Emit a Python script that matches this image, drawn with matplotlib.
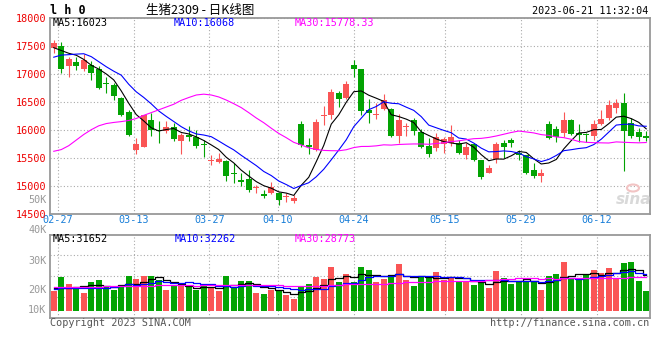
import numpy as np
import pandas as pd
import matplotlib
matplotlib.use("Agg")
import matplotlib.pyplot as plt
from matplotlib.patches import Ellipse

plt.rcParams['font.family'] = ['DejaVu Sans Mono']

# daily candles 02-24 .. 06-21 (80 sessions)
opens = [17458, 17500, 17143, 17214, 17089, 17161, 17089, 16840, 16804, 16577,
         16321, 15643, 15702, 16179, 16000, 15982, 16048, 15798, 15905, 15881,
         15740, 15440, 15429, 15447, 15238, 15107, 15125, 14964, 14851, 14869,
         14875, 14798, 14732, 16107, 15732, 15643, 16244, 16274, 16667, 16571,
         17167, 17089, 16357, 16268, 16369, 16375, 15899, 16048, 16179, 15970,
         15714, 15679, 15744, 15762, 15762, 15554, 15750, 15464, 15238, 15476,
         15762, 15821, 15583, 15554, 15286, 15185, 16107, 16018, 15952, 16179,
         15940, 15929, 15893, 16107, 16208, 16399, 16488, 16119, 15970, 15893]
highs = [17607, 17571, 17298, 17298, 17357, 17232, 17143, 16952, 16845, 16595,
         16357, 15857, 16274, 16310, 16167, 16167, 16119, 15940, 16071, 16000,
         15821, 15554, 15595, 15464, 15405, 15226, 15286, 15018, 14929, 15077,
         14899, 14881, 14839, 16161, 15851, 16190, 16429, 16726, 16702, 16881,
         17250, 17095, 16554, 16476, 16643, 16400, 16286, 16131, 16214, 16012,
         15851, 15940, 15881, 16083, 15821, 15762, 15762, 15470, 15375, 15792,
         15821, 15851, 15643, 15560, 15417, 15298, 16167, 16077, 16328, 16196,
         16101, 15940, 16179, 16357, 16536, 16548, 16667, 16208, 16042, 15988]
lows = [17381, 17024, 16952, 17071, 17054, 16893, 16738, 16667, 16536, 16250,
        15893, 15571, 15690, 15893, 15774, 15940, 15810, 15571, 15798, 15685,
        15512, 15375, 15405, 15095, 15060, 15006, 14899, 14869, 14780, 14857,
        14661, 14720, 14702, 15690, 15571, 15631, 16089, 16202, 16405, 16560,
        16940, 16262, 16119, 16190, 16357, 15869, 15762, 15893, 15905, 15673,
        15524, 15631, 15595, 15714, 15571, 15476, 15452, 15125, 15226, 15417,
        15494, 15690, 15464, 15214, 15137, 15077, 15833, 15780, 15869, 15911,
        15792, 15792, 15821, 16095, 16179, 16310, 15274, 15851, 15810, 15810]
closes = [17547, 17095, 17268, 17143, 17250, 17024, 16756, 16830, 16613, 16268,
          15917, 15750, 16262, 16000, 15982, 16048, 15845, 15905, 15869, 15720,
          15725, 15450, 15488, 15185, 15214, 15077, 14929, 14988, 14821, 14988,
          14750, 14821, 14780, 15726, 15702, 16143, 16274, 16679, 16560, 16821,
          17083, 16345, 16298, 16292, 16536, 15893, 16179, 16071, 15988, 15702,
          15571, 15869, 15833, 15869, 15595, 15702, 15464, 15167, 15327, 15750,
          15690, 15762, 15554, 15238, 15185, 15226, 15851, 15869, 16179, 15929,
          15905, 15905, 16107, 16202, 16446, 16488, 15988, 15893, 15869, 15863]
# volume in thousands of lots
volumes = [17.6, 29.6, 23.5, 20.5, 15.5, 25.2, 27.0, 20.5, 18.2, 20.5,
           30.5, 28.1, 30.5, 30.5, 27.0, 18.2, 21.7, 21.7, 20.5, 18.2,
           22.3, 21.1, 17.6, 30.5, 20.5, 26.4, 26.4, 15.5, 14.7, 18.2,
           18.2, 13.5, 10.3, 22.0, 23.5, 29.6, 27.9, 38.4, 25.2, 32.2,
           25.2, 38.4, 35.8, 25.2, 27.9, 31.1, 41.0, 27.0, 21.7, 30.5,
           28.7, 34.0, 27.0, 29.3, 25.8, 25.8, 22.6, 24.0, 19.9, 34.9,
           28.7, 23.5, 25.8, 26.4, 26.4, 18.2, 30.5, 32.2, 42.8, 28.7,
           27.0, 32.2, 35.8, 33.1, 37.5, 28.7, 41.9, 42.8, 26.1, 17.3]

# moving average values before the window is full
ma5_head = [17470, 17420, 17370, 17335]
ma10_head = [17300, 17338, 17345, 17355, 17362, 17310, 17220, 17130, 17050]
ma30_head = [15620, 15650, 15720, 15820, 15920, 16005, 16075, 16115, 16135, 16150,
             16170, 16205, 16262, 16310, 16360, 16410, 16460, 16530, 16580, 16625,
             16640, 16625, 16590, 16535, 16470, 16400, 16310, 16215, 16130]
vol_ma5_head = [20.0, 20.0, 20.3, 20.6]
vol_ma10_head = [19.5, 19.6, 19.6, 19.7, 19.8, 20.0, 20.2, 20.4, 20.6]
vol_ma30_head = [20.8, 20.9, 21.0, 21.0, 20.9, 21.0, 21.2, 21.3, 21.3, 21.4,
                 21.6, 21.8, 22.0, 22.1, 22.2, 22.2, 22.3, 22.2, 22.2, 22.1,
                 22.2, 22.3, 22.4, 22.5, 22.5, 22.4, 22.5, 22.5, 22.5]

date_labels = ["02-27", "03-13", "03-27", "04-10", "04-24", "05-15", "05-29", "06-12"]
date_index = [1, 11, 21, 30, 40, 52, 62, 72]
price_ticks = [14500, 15000, 15500, 16000, 16500, 17000, 17500, 18000]
vol_axis_labels = ["50K", "40K", "30K", "20K", "10K"]
price_ma_labels = ["MA5:16023", "MA10:16068", "MA30:15778.33"]
vol_ma_labels = ["MA5:31652", "MA10:32262", "MA30:28773"]

RED = '#fa5555'
GREEN = '#03a303'
GRID = '#aaaaaa'
FRAME = '#999999'
W, H = 660, 360


def moving_average(values, n, head):
    ma = pd.Series(values, dtype=float).rolling(n).mean().to_numpy()
    ma[:n - 1] = head
    return ma


def fx(px):
    return px / W


def fy(py):
    return 1 - py / H


x = np.arange(len(closes))
o = np.array(opens, dtype=float)
c = np.array(closes, dtype=float)
cols = [RED if cc >= oo else GREEN for oo, cc in zip(o, c)]

fig = plt.figure(figsize=(6.6, 3.6), dpi=100, facecolor='white')
ax = fig.add_axes([fx(50), fy(214), fx(600), 196 / H])
axv = fig.add_axes([fx(50), fy(317.5), fx(600), 82.8 / H])

# sina spaces its date grid on n-1 steps, slightly wider than the candles
grid_x = [i * len(x) / (len(x) - 1) - 0.5 for i in date_index]

for a in (ax, axv):
    a.set_xlim(-0.5, len(x) - 0.5)
    a.set_axisbelow(True)
    a.set_xticks(grid_x)
    a.grid(True, ls=(0, (1, 2)), color=GRID, lw=0.8)
    for s in a.spines.values():
        s.set_color(FRAME)
        s.set_linewidth(1.3)
    a.tick_params(length=0)

# candles
ax.vlines(x, lows, highs, colors=cols, lw=0.8, zorder=2)
body_lo = np.minimum(o, c)
body_h = np.maximum(np.abs(c - o), 18)
ax.bar(x, body_h, bottom=body_lo, width=0.76, color=cols, linewidth=0, zorder=3)

ax.plot(x, moving_average(closes, 5, ma5_head), color='black', lw=0.8, zorder=4)
ax.plot(x, moving_average(closes, 10, ma10_head), color='#0000ff', lw=0.8, zorder=4)
ax.plot(x, moving_average(closes, 30, ma30_head), color='#ff00ff', lw=0.8, zorder=4)

ax.set_ylim(14500, 18000)
ax.set_yticks(price_ticks)
ax.tick_params(axis='y', pad=2.5, labelcolor='#ee0000', labelsize=7.3)
ax.set_xticklabels(date_labels)
ax.tick_params(axis='x', pad=1, labelcolor='#1a7fd8', labelsize=7.3)

# volume
axv.bar(x, volumes, width=0.76, color=cols, linewidth=0, zorder=2)
vs = dict(lw=0.9, zorder=3, drawstyle='steps-mid')
axv.plot(x, moving_average(volumes, 5, vol_ma5_head), color='black', **vs)
axv.plot(x, moving_average(volumes, 10, vol_ma10_head), color='#0000ff', **vs)
axv.plot(x, moving_average(volumes, 30, vol_ma30_head), color='#ff00ff', **vs)
vlo, vhi = -5.98, 66.84
axv.set_ylim(vlo, vhi)
axv.set_yticks([vlo + f * (vhi - vlo) for f in (0.25, 0.5, 0.75)])
axv.set_yticklabels([])
axv.set_xticklabels([])

# texts
fs = 7.3
fig.text(fx(50), fy(11), "l h 0", fontsize=8.5, fontweight='bold', va='center')
fig.text(fx(200), fy(10.5), "生猪2309 - 日K线图", fontsize=9, ha='center', va='center',
         family=['Noto Sans CJK SC', 'DejaVu Sans'])
fig.text(fx(648), fy(11), "2023-06-21 11:32:04", fontsize=fs, ha='right', va='center')

for lbl, px, col in zip(price_ma_labels, [53, 174, 295], ['black', '#0000ff', '#ff00ff']):
    fig.text(fx(px), fy(23.5), lbl, fontsize=fs, color=col, va='center')
for lbl, px, col in zip(vol_ma_labels, [53, 175, 295], ['black', '#0000ff', '#ff00ff']):
    fig.text(fx(px), fy(238.5), lbl, fontsize=fs, color=col, va='center')

for lbl, py in zip(vol_axis_labels, [200, 230, 261, 290, 310]):
    fig.text(fx(46.5), fy(py), lbl, fontsize=fs, color='#999999', ha='right', va='center')

fig.text(fx(50), fy(323), "Copyright 2023 SINA.COM", fontsize=fs, color='#555555', va='center')
fig.text(fx(649), fy(323), "http://finance.sina.com.cn", fontsize=fs, color='#555555',
         ha='right', va='center')

# faint sina watermark
fig.patches.append(Ellipse((fx(633), fy(188)), fx(12), 7 / H, transform=fig.transFigure,
                           fill=False, ec='#f2c4c4', lw=1.5))
fig.text(fx(634), fy(199), "sina", fontsize=11, fontstyle='italic', fontweight='bold',
         color='#d9d9d9', ha='center', va='center', family='DejaVu Sans')

fig.savefig("out.png", dpi=100, facecolor='white')
